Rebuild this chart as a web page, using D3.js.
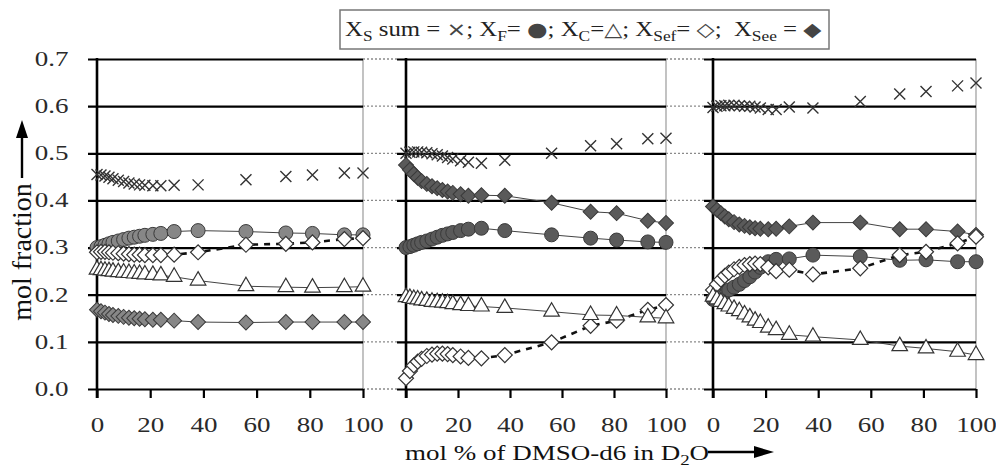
<!DOCTYPE html>
<html>
<head>
<meta charset="utf-8">
<script src="https://cdnjs.cloudflare.com/ajax/libs/d3/7.8.5/d3.min.js"></script>
<style>
  body { margin: 0; background: #fff; }
  svg { display: block; font-family: 'Liberation Serif', 'Times New Roman', serif; }
</style>
</head>
<body>
<div id="root"></div>
<script>
// mol % of DMSO-d6 in D2O (shared by the three panels)
const molPct = [0, 1.5, 3, 4.5, 6, 8, 10, 12, 14, 16, 18, 21, 24, 29, 38, 56, 71, 81, 93, 100];

// left panel
const sumA = [0.455, 0.454, 0.452, 0.449, 0.446, 0.443, 0.440, 0.437, 0.435, 0.433, 0.432, 0.431, 0.431, 0.432, 0.433, 0.444, 0.451, 0.454, 0.458, 0.458];
const fA = [0.300, 0.302, 0.305, 0.308, 0.311, 0.314, 0.317, 0.320, 0.322, 0.324, 0.326, 0.328, 0.330, 0.334, 0.336, 0.334, 0.331, 0.330, 0.327, 0.327];
const cA = [0.253, 0.252, 0.251, 0.250, 0.249, 0.248, 0.247, 0.246, 0.245, 0.244, 0.243, 0.242, 0.241, 0.238, 0.230, 0.218, 0.216, 0.215, 0.216, 0.217];
const sefA = [0.290, 0.291, 0.291, 0.290, 0.289, 0.288, 0.287, 0.286, 0.285, 0.285, 0.284, 0.284, 0.284, 0.285, 0.290, 0.306, 0.308, 0.311, 0.318, 0.320];
const seeA = [0.168, 0.165, 0.162, 0.159, 0.157, 0.155, 0.153, 0.151, 0.150, 0.149, 0.148, 0.147, 0.147, 0.145, 0.142, 0.141, 0.142, 0.142, 0.142, 0.142];

// middle panel
const sumB = [0.500, 0.502, 0.503, 0.503, 0.502, 0.501, 0.499, 0.497, 0.494, 0.491, 0.488, 0.484, 0.481, 0.479, 0.485, 0.500, 0.516, 0.520, 0.531, 0.532];
const fB = [0.300, 0.302, 0.305, 0.308, 0.311, 0.314, 0.318, 0.322, 0.326, 0.329, 0.332, 0.336, 0.339, 0.341, 0.336, 0.327, 0.320, 0.316, 0.312, 0.311];
const cB = [0.195, 0.193, 0.191, 0.190, 0.188, 0.187, 0.185, 0.184, 0.183, 0.182, 0.180, 0.178, 0.176, 0.175, 0.172, 0.164, 0.157, 0.156, 0.152, 0.150];
const sefB = [0.023, 0.038, 0.050, 0.058, 0.064, 0.070, 0.073, 0.075, 0.075, 0.074, 0.072, 0.069, 0.066, 0.065, 0.072, 0.099, 0.134, 0.145, 0.168, 0.178];
const seeB = [0.475, 0.465, 0.456, 0.448, 0.441, 0.435, 0.430, 0.426, 0.422, 0.419, 0.416, 0.413, 0.410, 0.411, 0.410, 0.395, 0.376, 0.373, 0.357, 0.352];

// right panel
const sumC = [0.597, 0.600, 0.601, 0.601, 0.602, 0.602, 0.601, 0.600, 0.600, 0.598, 0.596, 0.593, 0.593, 0.598, 0.596, 0.610, 0.626, 0.631, 0.643, 0.649];
const fC = [0.190, 0.195, 0.200, 0.205, 0.210, 0.216, 0.222, 0.230, 0.238, 0.248, 0.258, 0.270, 0.275, 0.276, 0.284, 0.281, 0.273, 0.274, 0.270, 0.270];
const cC = [0.196, 0.190, 0.185, 0.180, 0.175, 0.170, 0.165, 0.158, 0.152, 0.145, 0.140, 0.130, 0.125, 0.115, 0.111, 0.104, 0.091, 0.086, 0.079, 0.072];
const sefC = [0.210, 0.222, 0.232, 0.240, 0.247, 0.254, 0.259, 0.263, 0.265, 0.266, 0.265, 0.258, 0.250, 0.253, 0.243, 0.256, 0.284, 0.291, 0.309, 0.323];
const seeC = [0.387, 0.380, 0.373, 0.366, 0.360, 0.354, 0.349, 0.346, 0.343, 0.341, 0.340, 0.339, 0.340, 0.345, 0.353, 0.353, 0.339, 0.339, 0.334, 0.327];

const yTicks = [0, 0.1, 0.2, 0.3, 0.4, 0.5, 0.6, 0.7];
const xTicks = [0, 20, 40, 60, 80, 100];
// [main, subscript, text before symbol, symbol, trailing text]
const legendParts = [
  ['X', 'S', ' sum = ', '\u00d7', '; '],
  ['X', 'F', '= ', '\u25cf', '; '],
  ['X', 'C', '=', '\u25b3', '; '],
  ['X', 'Sef', '= ', '\u25c7', ';  '],
  ['X', 'See', ' = ', '\u25c6', ''],
];

const width = 996;
const height = 468;
const stretch = 1.35; // glyphs in the figure are horizontally stretched
const panelLeft = [97, 406, 713];
const panelRight = [363, 666, 976];
const markShade = ['#878787', '#5a5a5a', '#5a5a5a'];
const tickOut = 9;

const yScale = d3.scaleLinear().domain([0, 0.7]).range([389, 59]);

const svg = d3.select('#root').append('svg')
  .attr('width', width)
  .attr('height', height);

svg.append('rect').attr('width', width).attr('height', height).attr('fill', '#fff');

const panels = [
  { sum: sumA, f: fA, c: cA, sef: sefA, see: seeA },
  { sum: sumB, f: fB, c: cB, sef: sefB, see: seeB },
  { sum: sumC, f: fC, c: cC, sef: sefC, see: seeC },
];

// dotted grid continuation in the gaps between panels
[0, 1].forEach(i => {
  svg.append('g').selectAll('line')
    .data(yTicks)
    .enter()
    .append('line')
    .attr('x1', panelRight[i])
    .attr('x2', panelLeft[i + 1] - tickOut)
    .attr('y1', d => yScale(d))
    .attr('y2', d => yScale(d))
    .attr('stroke', '#8a8a8a')
    .attr('stroke-width', 1.3)
    .attr('stroke-dasharray', '2,2');
});

panels.forEach((p, i) => drawPanel(p, i));

function drawPanel(p, i) {
  const x0 = panelLeft[i];
  const x1 = panelRight[i];
  const xScale = d3.scaleLinear().domain([0, 100]).range([x0, x1]);
  const shade = markShade[i];
  const g = svg.append('g');

  // right border
  g.append('line')
    .attr('x1', x1).attr('x2', x1)
    .attr('y1', yScale(0.7)).attr('y2', yScale(0))
    .attr('stroke', '#9a9a9a')
    .attr('stroke-width', 1.2);

  // horizontal grid + y ticks
  const yAxis = g.append('g')
    .attr('transform', `translate(${x0 - tickOut}, 0)`)
    .call(d3.axisLeft(yScale)
      .tickValues(yTicks)
      .tickSize(-(x1 - x0 + tickOut))
      .tickPadding(14.5)
      .tickFormat(d3.format('.1f')));
  yAxis.select('.domain').remove();
  yAxis.selectAll('line').attr('stroke', '#000').attr('stroke-width', 2.2);
  if (i === 0) {
    yAxis.selectAll('text')
      .attr('font-size', 20)
      .attr('font-family', "'Liberation Serif', serif")
      .attr('fill', '#2a2a2a')
      .attr('transform', `scale(${stretch},1)`);
  } else {
    yAxis.selectAll('text').remove();
  }

  // x axis ticks and labels
  const xAxis = g.append('g')
    .attr('transform', `translate(0, ${yScale(0)})`)
    .call(d3.axisBottom(xScale)
      .tickValues(xTicks)
      .tickSize(tickOut)
      .tickPadding(20));
  xAxis.select('.domain').remove();
  xAxis.selectAll('line').attr('stroke', '#000').attr('stroke-width', 2.2);
  xAxis.selectAll('text')
    .attr('font-size', 20)
    .attr('font-family', "'Liberation Serif', serif")
    .attr('fill', '#2a2a2a')
    .attr('transform', `scale(${stretch},1)`);

  // y axis line
  g.append('line')
    .attr('x1', x0).attr('x2', x0)
    .attr('y1', yScale(0.7) - 1).attr('y2', yScale(0) + tickOut)
    .attr('stroke', '#000')
    .attr('stroke-width', 2.6);

  const pts = key => molPct.map((m, k) => ({ x: xScale(m), y: yScale(p[key][k]) }));
  const line = d3.line().x(d => d.x).y(d => d.y);

  // X_S sum: crosses
  const cross = 5.5;
  g.append('g').selectAll('path')
    .data(pts('sum'))
    .enter()
    .append('path')
    .attr('d', d => `M${d.x - cross},${d.y - cross}L${d.x + cross},${d.y + cross}M${d.x - cross},${d.y + cross}L${d.x + cross},${d.y - cross}`)
    .attr('stroke', '#333')
    .attr('stroke-width', 1.4)
    .attr('fill', 'none');

  // X_F: filled circles
  g.append('path')
    .attr('d', line(pts('f')))
    .attr('fill', 'none')
    .attr('stroke', '#444')
    .attr('stroke-width', 1);
  g.append('g').selectAll('circle')
    .data(pts('f'))
    .enter()
    .append('circle')
    .attr('cx', d => d.x)
    .attr('cy', d => d.y)
    .attr('r', 7)
    .attr('fill', shade)
    .attr('stroke', '#3a3a3a')
    .attr('stroke-width', 1);

  // X_See: filled diamonds
  g.append('path')
    .attr('d', line(pts('see')))
    .attr('fill', 'none')
    .attr('stroke', '#444')
    .attr('stroke-width', 1);
  g.append('g').selectAll('path')
    .data(pts('see'))
    .enter()
    .append('path')
    .attr('d', d3.symbol(d3.symbolSquare, 112))
    .attr('transform', d => `translate(${d.x},${d.y}) rotate(45)`)
    .attr('fill', shade)
    .attr('stroke', '#3a3a3a')
    .attr('stroke-width', 1);

  // X_Sef: open diamonds, dashed
  g.append('path')
    .attr('d', line(pts('sef')))
    .attr('fill', 'none')
    .attr('stroke', '#111')
    .attr('stroke-width', 2.6)
    .attr('stroke-dasharray', '6,6');
  g.append('g').selectAll('path')
    .data(pts('sef'))
    .enter()
    .append('path')
    .attr('d', d3.symbol(d3.symbolSquare, 112))
    .attr('transform', d => `translate(${d.x},${d.y}) rotate(45)`)
    .attr('fill', '#fff')
    .attr('stroke', '#333')
    .attr('stroke-width', 1.2);

  // X_C: open triangles
  g.append('path')
    .attr('d', line(pts('c')))
    .attr('fill', 'none')
    .attr('stroke', '#444')
    .attr('stroke-width', 1);
  g.append('g').selectAll('path')
    .data(pts('c'))
    .enter()
    .append('path')
    .attr('d', d3.symbol(d3.symbolTriangle, 105))
    .attr('transform', d => `translate(${d.x},${d.y})`)
    .attr('fill', '#fff')
    .attr('stroke', '#333')
    .attr('stroke-width', 1.2);
}

// legend
svg.append('rect')
  .attr('x', 340)
  .attr('y', 10)
  .attr('width', 489)
  .attr('height', 39)
  .attr('fill', '#fff')
  .attr('stroke', '#777')
  .attr('stroke-width', 1.5);

const legendText = svg.append('text')
  .attr('transform', 'translate(345, 36) scale(1.24,1)')
  .attr('font-size', 20)
  .attr('fill', '#222')
  .style('white-space', 'pre');

legendParts.forEach(([main, sub, pre, sym, post]) => {
  legendText.append('tspan').text(main);
  legendText.append('tspan').attr('font-size', 14).attr('dy', 5).text(sub);
  legendText.append('tspan').attr('dy', -5).text(pre);
  legendText.append('tspan').attr('font-family', 'DejaVu Sans').attr('font-size', 19).attr('fill', '#444').text(sym);
  legendText.append('tspan').text(post);
});

// y axis title with arrow
svg.append('text')
  .attr('transform', 'translate(31, 252) rotate(-90)')
  .attr('text-anchor', 'middle')
  .attr('font-size', 28)
  .attr('fill', '#111')
  .text('mol fraction');

svg.append('line')
  .attr('x1', 22).attr('x2', 22)
  .attr('y1', 178).attr('y2', 136)
  .attr('stroke', '#000')
  .attr('stroke-width', 2.4);
svg.append('path')
  .attr('d', 'M22,120L16,138L28,138Z')
  .attr('fill', '#000');

// x axis title with arrow
const xTitle = svg.append('text')
  .attr('transform', `translate(405, 460) scale(${stretch},1)`)
  .attr('font-size', 20)
  .attr('fill', '#111');
xTitle.append('tspan').text('mol % of DMSO-d6 in D');
xTitle.append('tspan').attr('font-size', 14).attr('dy', 5).text('2');
xTitle.append('tspan').attr('dy', -5).text('O');

svg.append('line')
  .attr('x1', 708).attr('x2', 758)
  .attr('y1', 452).attr('y2', 452)
  .attr('stroke', '#000')
  .attr('stroke-width', 2.4);
svg.append('path')
  .attr('d', 'M774,452L754,446L754,458Z')
  .attr('fill', '#000');
</script>
</body>
</html>
